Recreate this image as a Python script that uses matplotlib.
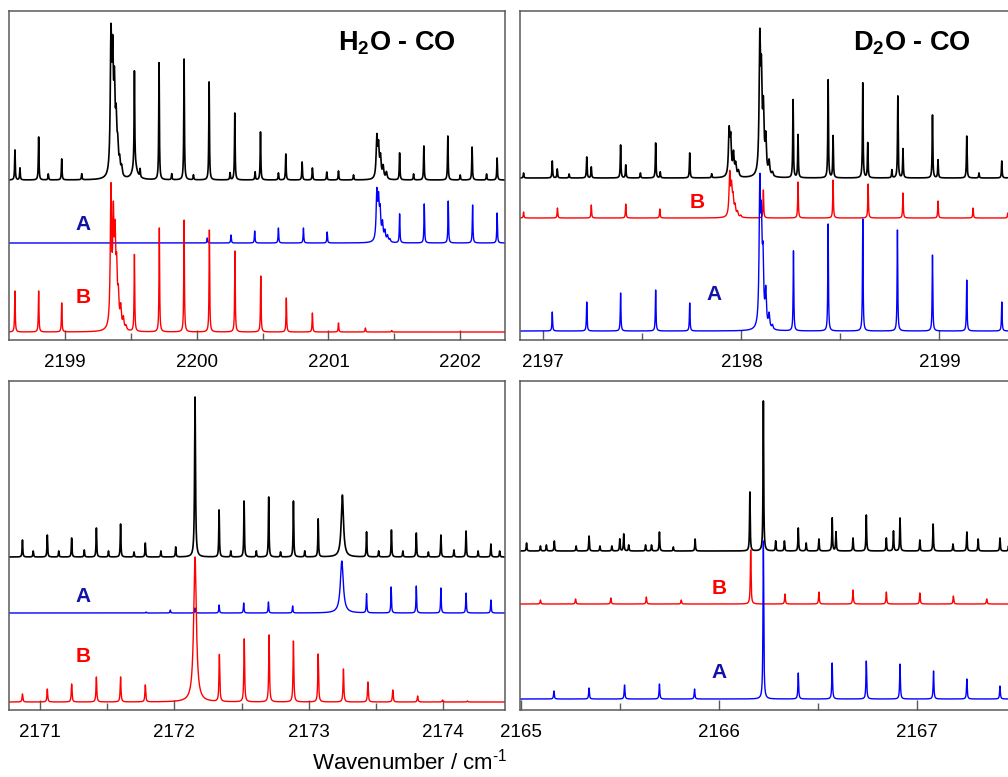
import numpy as np
import matplotlib
matplotlib.use('Agg')
import matplotlib.pyplot as plt
from matplotlib.ticker import MultipleLocator, FormatStrFormatter

plt.rcParams['font.family'] = ['Liberation Sans', 'DejaVu Sans']
plt.rcParams['mathtext.fontset'] = 'custom'
plt.rcParams['mathtext.rm'] = 'Liberation Sans'
plt.rcParams['mathtext.bf'] = 'Liberation Sans:bold'
plt.rcParams['mathtext.default'] = 'regular'

################################################################################
# line lists: (wavenumber / cm-1, peak height in arbitrary units)

# --- H2O - CO, upper band (top left) ---
tl_obs = [(2198.62, 30), (2198.658, 12), (2198.80, 43), (2198.873, 6), (2198.975, 21),
          (2199.127, 6), (2199.527, 95), (2199.57, 8), (2199.714, 117), (2199.81, 6),
          (2199.904, 121), (2199.975, 5), (2200.094, 98), (2200.253, 7), (2200.289, 67),
          (2200.443, 8), (2200.484, 48), (2200.62, 7), (2200.676, 26), (2200.80, 18),
          (2200.878, 12), (2200.987, 8), (2201.076, 9), (2201.19, 5), (2201.54, 27),
          (2201.646, 6), (2201.724, 34), (2201.906, 44), (2202.0, 5), (2202.09, 33),
          (2202.2, 6), (2202.28, 22)]
tl_obs_head = [(2199.349, 132), (2199.362, 105), (2199.375, 78), (2199.388, 48),
               (2199.400, 26), (2199.415, 14), (2199.43, 9),
               (2201.367, 40), (2201.38, 30), (2201.395, 20), (2201.415, 12), (2201.44, 7)]
tl_a = [(2200.08, 5), (2200.26, 8), (2200.44, 12), (2200.62, 15), (2200.81, 15),
        (2200.99, 11), (2201.54, 29), (2201.727, 39), (2201.909, 42), (2202.094, 38),
        (2202.28, 30)]
tl_a_head = [(2201.367, 47), (2201.38, 37), (2201.392, 27), (2201.41, 17),
             (2201.428, 10), (2201.448, 6), (2201.466, 3)]
tl_b = [(2198.62, 41), (2198.80, 41), (2198.975, 29), (2199.527, 77), (2199.716, 104),
        (2199.904, 112), (2200.096, 102), (2200.29, 81), (2200.486, 56), (2200.68, 34),
        (2200.878, 19), (2201.076, 9), (2201.28, 4), (2201.48, 1.5)]
tl_b_head = [(2199.349, 135), (2199.367, 100), (2199.380, 78), (2199.392, 50),
             (2199.405, 28), (2199.423, 20), (2199.443, 11), (2199.463, 4)]

# --- D2O - CO, upper band (top right) ---
tr_obs = [(2196.90, 5), (2197.045, 17), (2197.07, 9), (2197.13, 4), (2197.219, 21),
          (2197.242, 11), (2197.39, 33), (2197.416, 13), (2197.49, 5), (2197.567, 35),
          (2197.59, 6), (2197.739, 25), (2197.85, 4), (2198.261, 78), (2198.286, 43),
          (2198.438, 98), (2198.463, 42), (2198.613, 95), (2198.638, 35), (2198.79, 82),
          (2198.816, 29), (2198.76, 8), (2198.965, 63), (2198.993, 18), (2199.138, 42),
          (2199.2, 5), (2199.315, 17), (2199.36, 8)]
tr_obs_head = [(2197.938, 44), (2197.946, 35), (2197.96, 22), (2197.971, 12), (2197.985, 6),
               (2198.093, 128), (2198.101, 88), (2198.111, 60), (2198.123, 35),
               (2198.14, 14), (2198.157, 4)]
tr_b = [(2196.90, 6), (2197.071, 10), (2197.242, 13), (2197.416, 14), (2197.588, 9),
        (2198.111, 28), (2198.286, 36), (2198.463, 38), (2198.64, 34), (2198.816, 25),
        (2198.993, 17), (2199.17, 10), (2199.345, 5)]
tr_b_head = [(2197.941, 42), (2197.950, 27), (2197.958, 17), (2197.968, 10),
             (2197.980, 5), (2197.997, 2)]
tr_a = [(2197.045, 19), (2197.219, 29), (2197.39, 38), (2197.567, 41), (2197.739, 28),
        (2198.263, 80), (2198.438, 107), (2198.613, 112), (2198.788, 101),
        (2198.965, 76), (2199.138, 51), (2199.315, 29)]
tr_a_head = [(2198.093, 135), (2198.101, 90), (2198.109, 60), (2198.123, 35),
             (2198.14, 14), (2198.157, 4)]

# --- H2O - CO, lower band (bottom left) ---
bl_obs = [(2170.87, 17), (2170.95, 6), (2171.055, 22), (2171.14, 6), (2171.236, 19),
          (2171.33, 7), (2171.42, 29), (2171.51, 6), (2171.60, 33), (2171.70, 5),
          (2171.784, 14), (2171.9, 6), (2172.01, 10), (2172.333, 47), (2172.42, 6),
          (2172.519, 56), (2172.61, 6), (2172.702, 60), (2172.79, 5), (2172.886, 56),
          (2172.97, 6), (2173.07, 38), (2173.43, 25), (2173.52, 6), (2173.615, 27),
          (2173.70, 6), (2173.80, 24), (2173.89, 5), (2173.983, 22), (2174.08, 7),
          (2174.17, 26), (2174.26, 6), (2174.355, 13), (2174.42, 6)]
bl_obs_wide = [(2172.154, 160, 0.004), (2173.25, 62, 0.010)]
bl_a = [(2171.79, 1), (2171.97, 3), (2172.154, 5), (2172.333, 8), (2172.516, 10),
        (2172.70, 11), (2172.88, 7), (2173.43, 19), (2173.613, 26), (2173.80, 27),
        (2173.983, 25), (2174.17, 20), (2174.355, 13)]
bl_a_wide = [(2173.246, 52, 0.013)]
bl_b = [(2170.87, 8), (2171.055, 13), (2171.236, 18), (2171.42, 25), (2171.60, 25),
        (2171.784, 17), (2172.335, 47), (2172.52, 63), (2172.705, 67), (2172.886, 61),
        (2173.07, 48), (2173.258, 33), (2173.44, 20), (2173.625, 12), (2173.81, 6),
        (2173.995, 2), (2174.18, 1)]
bl_b_wide = [(2172.154, 145, 0.012)]

# --- D2O - CO, lower band (bottom right) ---
br_obs = [(2165.03, 8), (2165.10, 5), (2165.13, 6), (2165.17, 10), (2165.28, 5),
          (2165.345, 15), (2165.40, 5), (2165.46, 5), (2165.50, 12), (2165.52, 17),
          (2165.545, 6), (2165.63, 6), (2165.66, 6), (2165.70, 19), (2165.77, 4),
          (2165.88, 12), (2166.156, 59), (2166.224, 150), (2166.286, 10), (2166.33, 10),
          (2166.40, 23), (2166.44, 8), (2166.504, 12), (2166.571, 33), (2166.59, 19),
          (2166.676, 13), (2166.743, 36), (2166.844, 13), (2166.88, 20), (2166.913, 33),
          (2167.013, 11), (2167.08, 27), (2167.18, 7), (2167.25, 19), (2167.307, 12),
          (2167.417, 13), (2167.46, 5)]
br_b = [(2165.10, 4), (2165.277, 5), (2165.455, 6), (2165.634, 7), (2165.81, 4),
        (2166.16, 54), (2166.333, 10), (2166.504, 12), (2166.676, 14), (2166.844, 12),
        (2167.013, 11), (2167.182, 8), (2167.35, 5)]
br_a = [(2165.168, 8), (2165.345, 11), (2165.524, 14), (2165.70, 15), (2165.877, 10),
        (2166.224, 158), (2166.40, 26), (2166.571, 36), (2166.743, 38), (2166.913, 35),
        (2167.082, 28), (2167.25, 20), (2167.417, 13)]

# baselines of the stacked traces
tl_base = {'obs': 160, 'a': 97, 'b': 8}
tr_base = {'obs': 162, 'b': 122, 'a': 9}
bl_base = {'obs': 153, 'a': 97, 'b': 8}
br_base = {'obs': 159, 'b': 106, 'a': 11}

# x ranges (cm-1)
tl_xlim = (2198.575, 2202.34)
tr_xlim = (2196.882, 2199.407)
bl_xlim = (2170.77, 2174.46)
br_xlim = (2164.997, 2167.518)

################################################################################
# functions

def spectrum(x, lines, gam, head=(), head_gam=0.005, wide=()):
  y = np.zeros_like(x)
  for x0, h in lines:
    y += h * gam**2 / ((x - x0)**2 + gam**2)
  for x0, h in head:
    y += h * head_gam**2 / ((x - x0)**2 + head_gam**2)
  for x0, h, g in wide:
    y += h * g**2 / ((x - x0)**2 + g**2)
  return y

BLUE = '#0000ff'
RED = '#ff0000'
LBLUE = '#1212a6'
SPINE = '#5a5a5a'

def style_axes(ax, xlim):
  ax.set_xlim(*xlim)
  ax.set_ylim(0, 329)
  ax.set_yticks([])
  ax.xaxis.set_major_locator(MultipleLocator(1))
  ax.xaxis.set_minor_locator(MultipleLocator(0.5))
  ax.xaxis.set_major_formatter(FormatStrFormatter('%d'))
  ax.tick_params(axis='x', which='major', direction='in', length=7, width=1.0,
                 color=SPINE, labelsize=13.5, pad=10)
  ax.tick_params(axis='x', which='minor', direction='in', length=5, width=1.0,
                 color=SPINE)
  for s in ax.spines.values():
    s.set_color(SPINE)
    s.set_linewidth(1.1)

def label(ax, x, y, s, c):
  ax.text(x, y, s, color=c, fontsize=15, fontweight='bold', ha='center', va='center')

################################################################################
# figure

W, H = 1008, 777
fig = plt.figure(figsize=(W/100, H/100), dpi=100)

def px_axes(x0, y_top, w, h):
  return fig.add_axes([x0/W, 1 - (y_top + h)/H, w/W, h/H])

ax_tl = px_axes(9, 11, 496, 329)
ax_tr = px_axes(520, 11, 500, 329)
ax_bl = px_axes(9, 381, 496, 329)
ax_br = px_axes(520, 381, 500, 329)

lw = 1.0

# top left: H2O - CO
x = np.linspace(*tl_xlim, 16000)
ax_tl.plot(x, tl_base['obs'] + spectrum(x, tl_obs, 0.0028, tl_obs_head, 0.006, [(2199.53, 14, 0.02)]), color='k', lw=1.2)
ax_tl.plot(x, tl_base['a'] + spectrum(x, tl_a, 0.0028, tl_a_head, 0.006), color=BLUE, lw=lw)
ax_tl.plot(x, tl_base['b'] + spectrum(x, tl_b, 0.0028, tl_b_head, 0.006), color=RED, lw=lw)
style_axes(ax_tl, tl_xlim)
label(ax_tl, 2199.137, 115, 'A', LBLUE)
label(ax_tl, 2199.137, 42, 'B', RED)
ax_tl.text(2201.521, 297, r'H$_\mathbf{2}$O - CO', fontsize=19.5, fontweight='bold', ha='center', va='center')

# top right: D2O - CO
x = np.linspace(*tr_xlim, 16000)
ax_tr.plot(x, tr_base['obs'] + spectrum(x, tr_obs, 0.0019, tr_obs_head, 0.004), color='k', lw=1.2)
ax_tr.plot(x, tr_base['b'] + spectrum(x, tr_b, 0.0019, tr_b_head, 0.004), color=RED, lw=lw)
ax_tr.plot(x, tr_base['a'] + spectrum(x, tr_a, 0.0019, tr_a_head, 0.004), color=BLUE, lw=lw)
style_axes(ax_tr, tr_xlim)
label(ax_tr, 2197.776, 138, 'B', RED)
label(ax_tr, 2197.862, 45, 'A', LBLUE)
ax_tr.text(2198.862, 297, r'D$_\mathbf{2}$O - CO', fontsize=19.5, fontweight='bold', ha='center', va='center')

# bottom left
x = np.linspace(*bl_xlim, 16000)
ax_bl.plot(x, bl_base['obs'] + spectrum(x, bl_obs, 0.0028, wide=bl_obs_wide), color='k', lw=1.2)
ax_bl.plot(x, bl_base['a'] + spectrum(x, bl_a, 0.0028, wide=bl_a_wide), color=BLUE, lw=lw)
ax_bl.plot(x, bl_base['b'] + spectrum(x, bl_b, 0.0035, wide=bl_b_wide), color=RED, lw=lw)
style_axes(ax_bl, bl_xlim)
label(ax_bl, 2171.32, 113, 'A', LBLUE)
label(ax_bl, 2171.32, 53, 'B', RED)

# bottom right
x = np.linspace(*br_xlim, 16000)
ax_br.plot(x, br_base['obs'] + spectrum(x, br_obs, 0.0019), color='k', lw=1.2)
ax_br.plot(x, br_base['b'] + spectrum(x, br_b, 0.0022), color=RED, lw=lw)
ax_br.plot(x, br_base['a'] + spectrum(x, br_a, 0.0022), color=BLUE, lw=lw)
style_axes(ax_br, br_xlim)
label(ax_br, 2166.0, 122, 'B', RED)
label(ax_br, 2166.0, 37, 'A', LBLUE)

fig.text(410/W, 1 - 762/H, r'Wavenumber / cm$^{\text{-}1}$', fontsize=16, ha='center', va='center')

fig.savefig('out.png', dpi=100)
